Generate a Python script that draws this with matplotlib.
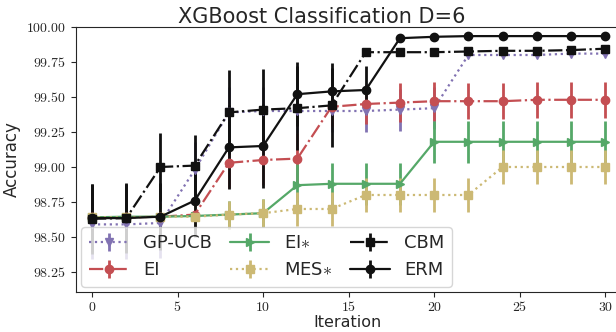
import numpy as np
import matplotlib
matplotlib.use("Agg")
import matplotlib.pyplot as plt
import seaborn as sns

sns.set_style("ticks")
plt.rcParams['font.family'] = ['DejaVu Sans']
plt.rcParams['mathtext.fontset'] = 'cm'

iters = [0, 2, 4, 6, 8, 10, 12, 14, 16, 18, 20, 22, 24, 26, 28, 30]

gp_ucb = [98.59, 98.59, 98.60, 98.98, 99.39, 99.40, 99.40, 99.40, 99.40, 99.41, 99.42,
          99.80, 99.80, 99.80, 99.81, 99.81]
gp_ucb_err = [0.25, 0.25, 0.25, 0.2, 0.18, 0.17, 0.16, 0.15, 0.15, 0.15, 0.15,
              0.01, 0.01, 0.01, 0.01, 0.01]

ei = [98.64, 98.64, 98.645, 98.66, 99.03, 99.05, 99.06, 99.43, 99.45, 99.46, 99.47,
      99.47, 99.47, 99.48, 99.48, 99.48]
ei_err = [0.1, 0.1, 0.1, 0.12, 0.18, 0.18, 0.18, 0.14, 0.14, 0.14, 0.14,
          0.13, 0.13, 0.13, 0.13, 0.13]

ei_star = [98.64, 98.645, 98.645, 98.65, 98.66, 98.67, 98.87, 98.88, 98.88, 98.88, 99.18,
           99.18, 99.18, 99.18, 99.18, 99.18]
ei_star_err = [0.08, 0.08, 0.08, 0.1, 0.1, 0.1, 0.15, 0.15, 0.15, 0.15, 0.15,
               0.15, 0.15, 0.15, 0.15, 0.15]

mes_star = [98.64, 98.64, 98.645, 98.645, 98.66, 98.67, 98.70, 98.70, 98.80, 98.80, 98.80,
            98.80, 99.00, 99.00, 99.00, 99.00]
mes_star_err = [0.06, 0.06, 0.06, 0.08, 0.1, 0.1, 0.12, 0.12, 0.12, 0.12, 0.12,
                0.12, 0.12, 0.12, 0.12, 0.12]

cbm = [98.63, 98.635, 99.00, 99.01, 99.39, 99.41, 99.42, 99.44, 99.82, 99.82, 99.82,
       99.825, 99.83, 99.83, 99.835, 99.845]
cbm_err = [0.25, 0.25, 0.24, 0.22, 0.30, 0.29, 0.30, 0.30, 0.01, 0.01, 0.01,
           0.01, 0.01, 0.01, 0.01, 0.01]

erm = [98.635, 98.635, 98.645, 98.76, 99.14, 99.15, 99.52, 99.54, 99.55, 99.92, 99.93,
       99.935, 99.935, 99.935, 99.935, 99.935]
erm_err = [0.24, 0.24, 0.24, 0.26, 0.3, 0.3, 0.23, 0.17, 0.17, 0.01, 0.01,
           0.01, 0.01, 0.01, 0.01, 0.01]

# metoda, boja, linija, marker
serije = [
    ('GP-UCB', gp_ucb, gp_ucb_err, '#8172B2', ':', 'v'),
    ('EI', ei, ei_err, '#C44E52', '-.', 'o'),
    (r'EI$\ast$', ei_star, ei_star_err, '#55A868', '-', '>'),
    (r'MES$\ast$', mes_star, mes_star_err, '#CCB974', ':', 's'),
    ('CBM', cbm, cbm_err, '#111111', '-.', 's'),
    ('ERM', erm, erm_err, '#111111', '-', 'o'),
]

xt = [0, 5, 10, 15, 20, 25, 30]
yt = [98.25, 98.5, 98.75, 99.0, 99.25, 99.5, 99.75, 100.0]

fig = plt.figure(figsize=(6.16, 3.32), dpi=100)
ax = fig.add_axes([76 / 616, 40 / 332, 548 / 616, 265 / 332])

for ime, y, err, boja, ls, mk in serije:
    ax.errorbar(iters, y, yerr=err, color=boja, ls=ls, marker=mk, markersize=6,
                lw=1.6, elinewidth=2, capsize=0, label=ime)

ax.set_xlim(-0.94, 31.1)
ax.set_ylim(98.107, 100.0)
ax.set_xticks(xt)
ax.set_yticks(yt)
ax.set_xticklabels([r'$%d$' % t for t in xt], fontsize=10)
ax.set_yticklabels([r'$%.2f$' % t for t in yt], fontsize=10)
ax.tick_params(axis='x', pad=2)
ax.set_xlabel('Iteration', fontsize=11.5)
ax.set_ylabel('Accuracy', fontsize=12, labelpad=4)
ax.set_title('XGBoost Classification D=6', fontsize=15, pad=3,
             x=(322 - 76) / 548)
ax.xaxis.set_label_coords((347 - 76) / 548, -0.085)

ax.legend(loc='lower left', ncol=3, fontsize=13, handlelength=2.2,
          columnspacing=1.0, borderaxespad=0.3)

fig.savefig('out.png', dpi=100)
